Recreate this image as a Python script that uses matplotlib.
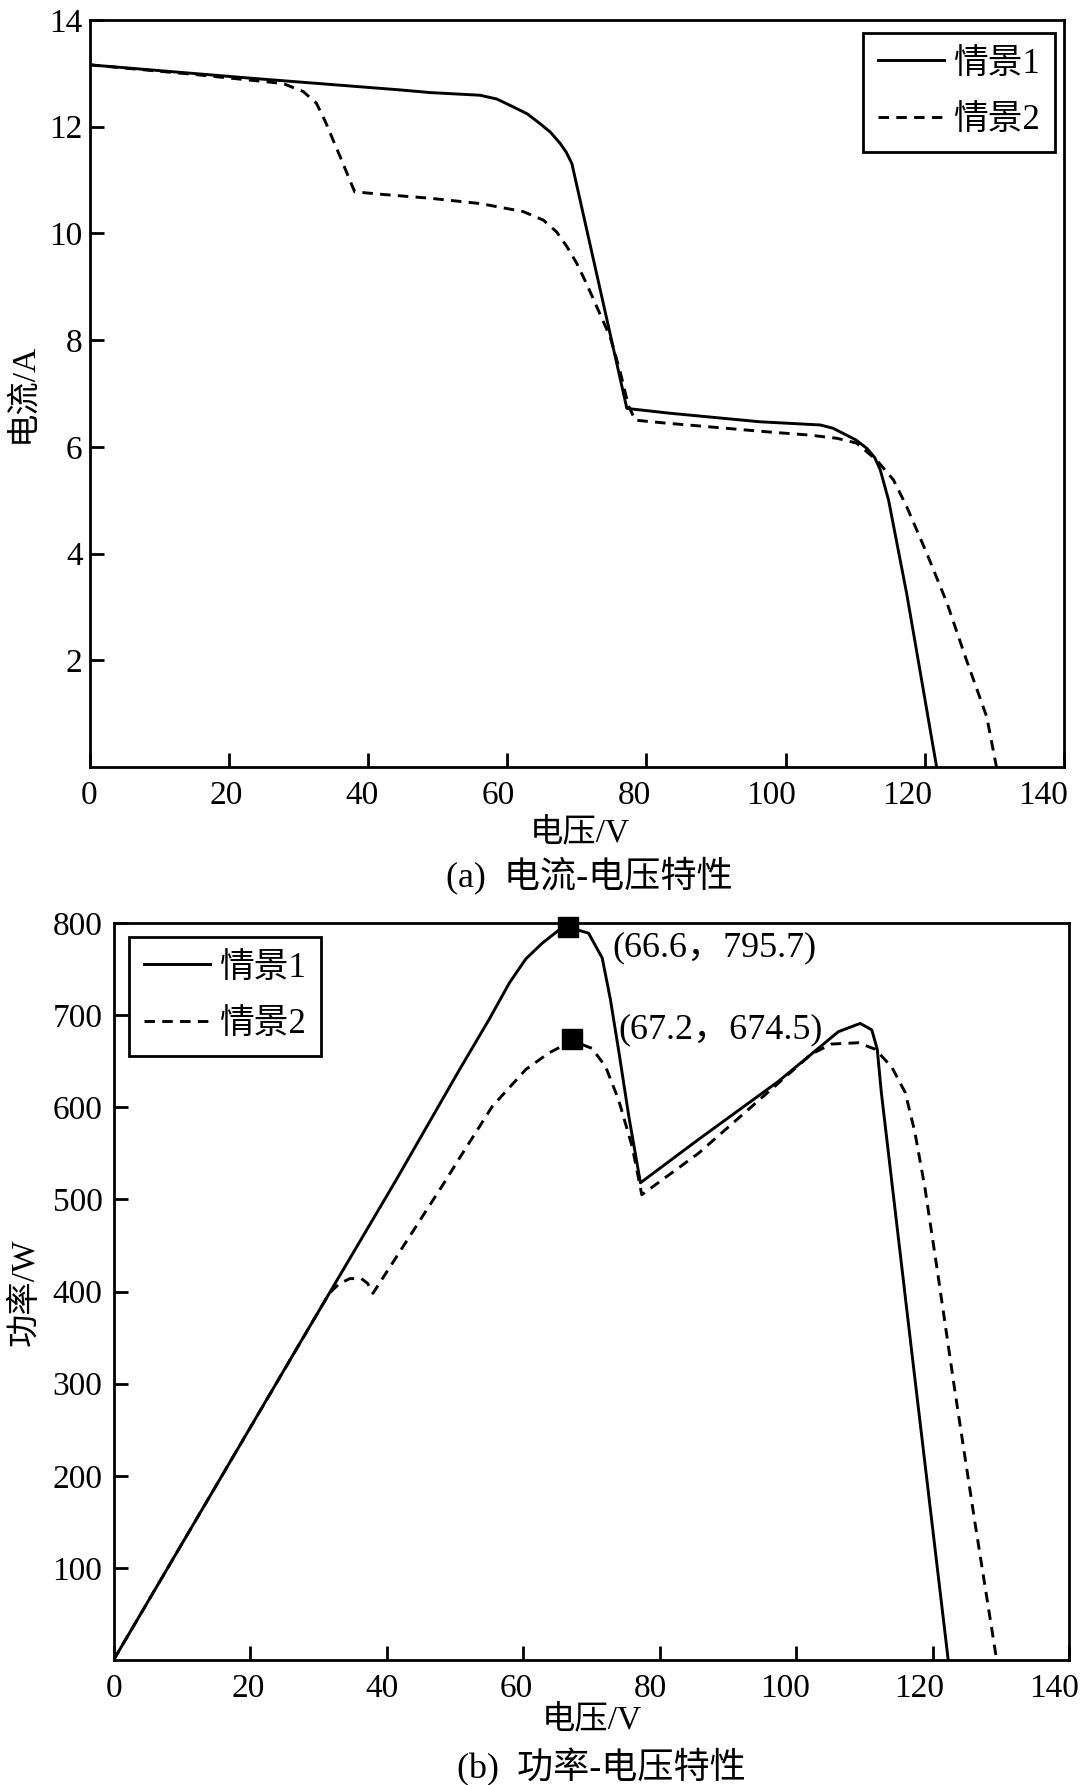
import matplotlib
matplotlib.use('Agg')
import matplotlib.pyplot as plt
import matplotlib.transforms as mtransforms

plt.rcParams['font.family'] = ['Liberation Serif', 'Noto Sans CJK SC']
plt.rcParams['axes.unicode_minus'] = False

# ---------------- data ----------------
# I-V, scenario 1
iv_v1 = [0, 23.1, 44.6, 48.9, 56.1, 58.5, 60.9, 62.9, 64.7, 66.2, 67.6, 68.5, 69.3,
         77.2, 83.4, 96.3, 105.0, 106.8, 108.3, 110.1, 111.7, 112.8, 113.6, 114.8, 117.4, 121.7]
iv_i1 = [13.16, 12.91, 12.69, 12.64, 12.59, 12.52, 12.37, 12.24, 12.06, 11.90, 11.69, 11.52, 11.31,
         6.72, 6.63, 6.47, 6.41, 6.35, 6.25, 6.13, 5.97, 5.80, 5.57, 5.00, 3.25, 0.0]
# I-V, scenario 2
iv_v2 = [0, 15.0, 27.8, 30.7, 32.6, 33.8, 35.0, 36.2, 37.2, 38.1, 42.2, 48.9, 56.1, 62.3,
         65.2, 67.1, 68.6, 70.0, 71.4, 73.3, 74.8, 76.2, 77.4, 78.4, 82.4, 97.5, 103.5,
         107.4, 110.2, 113.1, 115.5, 117.4, 120.3, 123.2, 126.0, 128.9, 130.3]
iv_i2 = [13.16, 12.98, 12.81, 12.66, 12.44, 12.12, 11.75, 11.38, 11.06, 10.78, 10.73, 10.66,
         10.56, 10.41, 10.25, 10.03, 9.75, 9.44, 9.06, 8.50, 8.06, 7.43, 6.78, 6.50, 6.45,
         6.28, 6.22, 6.16, 6.07, 5.75, 5.38, 4.88, 4.00, 3.07, 2.00, 0.94, 0.0]

# P-V, scenario 1
pv_v1 = [0, 27.3, 41.4, 50.7, 55.0, 58.0, 60.4, 62.8, 65.3, 66.6, 68.2, 69.6, 71.6, 72.8,
         74.0, 75.5, 77.2, 85.7, 97.4, 102.3, 106.2, 109.4, 111.1, 111.9, 112.5, 116.9, 122.3]
pv_p1 = [0, 344, 521, 641, 695, 735, 761, 778, 792.6, 795.7, 792, 789, 762, 717,
         662, 590, 518, 565, 628, 658, 682, 691, 684, 663, 616, 338, 0]
# P-V, scenario 2
pv_v2 = [0, 31.6, 33.0, 34.6, 36.3, 37.2, 38.0, 48.7, 50.7, 55.5, 60.4, 63.8, 67.2, 70.1,
         72.1, 74.0, 76.0, 77.4, 85.7, 102.3, 105.2, 109.1, 111.6, 114.0, 116.0, 117.4,
         118.9, 120.8, 123.3, 126.2, 129.4]
pv_p2 = [0, 398, 408, 414, 414, 409, 398, 521, 545, 601, 641, 659, 672, 664,
         644, 608, 557, 505, 550, 658, 668.6, 670, 663, 644, 616, 573.5,
         512, 418, 291, 150, 0]

# maximum power points
mpp_v = [66.6, 67.2]
mpp_p = [795.7, 674.5]
mpp_labels = ['(66.6，795.7)', '(67.2，674.5)']

legend_labels = ['情景1', '情景2']
x_ticks = [0, 20, 40, 60, 80, 100, 120, 140]
iv_yticks = [2, 4, 6, 8, 10, 12, 14]
pv_yticks = [100, 200, 300, 400, 500, 600, 700, 800]
x_label = '电压/V'
iv_ylabel = '电流/A'
pv_ylabel = '功率/W'
cap_a = '(a)  电流-电压特性'
cap_b = '(b)  功率-电压特性'

# ---------------- figure ----------------
W, H = 1080, 1785
fig = plt.figure(figsize=(W / 100, H / 100), dpi=100)


def px_axes(l, t, r, b):
    return fig.add_axes([l / W, 1 - b / H, (r - l) / W, (b - t) / H])


ax1 = px_axes(89.5, 20, 1064, 767)
ax2 = px_axes(113.6, 923, 1069, 1660)

LW = 2.1
DASH = (0, (3.6, 2.5))
TICK_FS = 24
LABEL_FS = 24

for ax in (ax1, ax2):
    for s in ax.spines.values():
        s.set_linewidth(2.0)
        s.set_color('black')
    ax.tick_params(direction='in', length=10, width=2.0, top=False, right=False,
                   labelsize=TICK_FS, colors='black')
    ax.set_xlim(0, 140)
    ax.set_xticks(x_ticks)
    ax.set_xticklabels([str(t) for t in x_ticks])

# I-V
ax1.plot(iv_v1, iv_i1, color='black', lw=LW, ls='-', label=legend_labels[0])
ax1.plot(iv_v2, iv_i2, color='black', lw=LW, ls=DASH, label=legend_labels[1])
ax1.set_ylim(0, 14)
ax1.set_yticks(iv_yticks)
ax1.set_yticklabels([str(t) for t in iv_yticks])
ax1.tick_params(axis='x', pad=10)
ax1.tick_params(axis='y', pad=5)

# P-V
ax2.plot(pv_v1, pv_p1, color='black', lw=LW, ls='-', label=legend_labels[0])
ax2.plot(pv_v2, pv_p2, color='black', lw=LW, ls=DASH, label=legend_labels[1])
ax2.set_ylim(0, 800)
ax2.set_yticks(pv_yticks)
ax2.set_yticklabels([str(t) for t in pv_yticks])
ax2.tick_params(axis='x', pad=10)
ax2.tick_params(axis='y', pad=8)

ax2.plot(mpp_v, mpp_p, ls='none', marker='s', markersize=14, color='black',
         clip_on=False, zorder=5)
offsets = [(32, -15), (33, 6.5)]
for v, p, lab, off in zip(mpp_v, mpp_p, mpp_labels, offsets):
    ax2.annotate(lab, xy=(v, p), xytext=off, textcoords='offset points',
                 ha='left', va='center', fontsize=26, color='black')

# x tick labels in the reference drift slightly left of their tick marks
for ax, k in ((ax1, 0.15), (ax2, 0.11)):
    for lab, t in zip(ax.get_xticklabels(), x_ticks):
        off = mtransforms.ScaledTranslation(-k * t / 100.0, 0, fig.dpi_scale_trans)
        lab.set_transform(lab.get_transform() + off)

# legends
LEG_FS = 25
leg_kw = dict(fontsize=LEG_FS, frameon=True, fancybox=False, shadow=False,
              framealpha=1, edgecolor='black', handlelength=1.9, handletextpad=0.28,
              labelspacing=0.68, borderpad=0.42, borderaxespad=0)
leg1 = ax1.legend(loc='upper right', bbox_to_anchor=(1055 / W, 1 - 33 / H),
                  bbox_transform=fig.transFigure, **leg_kw)
leg2 = ax2.legend(loc='upper left', bbox_to_anchor=(129 / W, 1 - 937 / H),
                  bbox_transform=fig.transFigure, **leg_kw)
for lg in (leg1, leg2):
    lg.get_frame().set_linewidth(2.0)

# axis labels and captions
fig.text(580 / W, 1 - 833 / H, x_label, ha='center', va='center', fontsize=LABEL_FS)
fig.text(589 / W, 1 - 875 / H, cap_a, ha='center', va='center', fontsize=26)
fig.text(23 / W, 1 - 393 / H, iv_ylabel, ha='center', va='center', rotation=90,
         fontsize=LABEL_FS)
fig.text(592 / W, 1 - 1720 / H, x_label, ha='center', va='center', fontsize=LABEL_FS)
fig.text(601 / W, 1 - 1767 / H, cap_b, ha='center', va='center', fontsize=26)
fig.text(25 / W, 1 - 1292 / H, pv_ylabel, ha='center', va='center', rotation=90,
         fontsize=LABEL_FS)

fig.savefig('out.png', dpi=100, facecolor='white')
